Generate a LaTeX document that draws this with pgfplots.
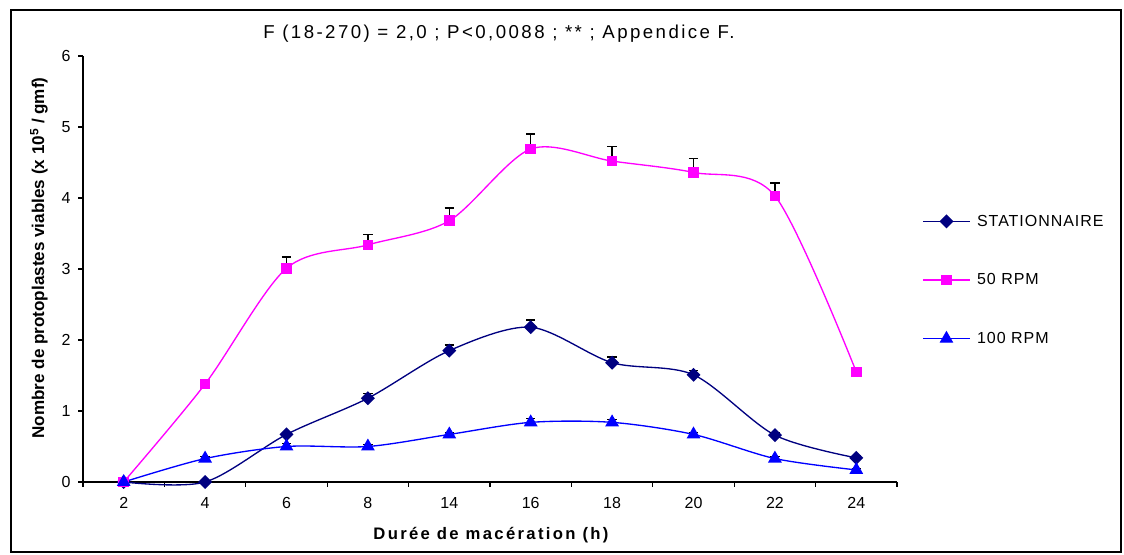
\documentclass[border=0pt]{standalone}
\usepackage{fontspec}
\setmainfont{Liberation Sans}
\usepackage{pgfplots}
\pgfplotsset{compat=1.18}
\definecolor{navy}{RGB}{0,0,128}
\definecolor{mag}{RGB}{255,0,255}
\definecolor{blu}{RGB}{0,0,255}
\begin{document}
\begin{tikzpicture}
\begin{axis}[name=ax, scale only axis, width=610.5pt, height=319.5pt,
  xmin=-0.5, xmax=9.5, ymin=0, ymax=6,
  axis lines*=left, axis line style={black, line width=0.8pt},
  xtick={-0.5,0.5,1.5,2.5,3.5,4.5,5.5,6.5,7.5,8.5,9.5},
  x tick label as interval,
  xticklabels={2,4,6,8,14,16,18,20,22,24},
  ytick={0,1,2,3,4,5,6},
  tick align=outside, major tick length=3.75pt,
  tick style={black, line width=0.8pt},
  tick label style={font=\fontsize{12}{12}\selectfont},
  xticklabel style={yshift=-4pt},
  yticklabel style={xshift=-2pt},
  /pgf/number format/assume math mode=true,
  clip=false,
  legend style={draw=none, fill=none, at={(1.026,0.474)}, anchor=west,
    font=\fontsize{12}{12}\selectfont\addfontfeatures{LetterSpace=6}, row sep=31pt, column sep=4pt,
    nodes={inner sep=1pt, text height=9pt, text depth=2pt}},
  legend cell align=left,
  legend image code/.code={\draw[mark repeat=2,mark phase=2,#1] plot coordinates {(0pt,0pt) (17.5pt,0pt) (35pt,0pt)};},
  every axis plot/.append style={line width=1pt},
  error bars/error bar style={black, line width=1pt},
  error bars/error mark options={rotate=90, black, mark size=3.5pt, line width=1pt},
]
\addplot[navy, smooth, mark=square*, mark size=3.2pt, mark options={fill=navy, solid, rotate=45},
  error bars/.cd, y dir=plus, y explicit]
  table[x=x, y=y, y error=e] {
x y e
0 0 0
1 0 0
2 0.67 0.03
3 1.18 0.07
4 1.85 0.08
5 2.18 0.10
6 1.68 0.08
7 1.51 0.06
8 0.66 0.04
9 0.34 0.03
};
\addlegendentry{STATIONNAIRE}
\addplot[mag, smooth, mark=square*, mark size=3.5pt, mark options={fill=mag, solid},
  error bars/.cd, y dir=plus, y explicit]
  table[x=x, y=y, y error=e] {
x y e
0 0 0
1 1.38 0.02
2 3.01 0.16
3 3.34 0.15
4 3.68 0.18
5 4.69 0.21
6 4.52 0.21
7 4.36 0.20
8 4.03 0.18
9 1.55 0.03
};
\addlegendentry{50 RPM}
\addplot[blu, smooth, mark=triangle*, mark size=5pt, mark options={fill=blu, solid},
  error bars/.cd, y dir=plus, y explicit]
  table[x=x, y=y, y error=e] {
x y e
0 0 0
1 0.33 0.03
2 0.50 0.04
3 0.50 0.03
4 0.67 0.03
5 0.84 0.05
6 0.84 0.04
7 0.67 0.03
8 0.33 0.03
9 0.17 0.02
};
\addlegendentry{100 RPM}
\end{axis}
\begin{scope}[shift={(ax.south west)}, xshift=-62.25pt, yshift=361.5pt, x=0.75pt, y=-0.75pt]
\draw[line width=2.2pt] (11,10) rectangle (1121,552);
\node[font=\fontsize{14}{14}\selectfont\addfontfeatures{LetterSpace=13}] at (499,34) {F (18-270) = 2,0 ; P<0,0088 ; ** ; Appendice F.};
\node[rotate=90, font=\bfseries\fontsize{12.8}{12.8}\selectfont] at (39,258) {Nombre de protoplastes viables (x 10\textsuperscript{5} / gmf)};
\node[font=\bfseries\fontsize{12.5}{12.5}\selectfont\addfontfeatures{LetterSpace=14}] at (491,535) {Durée de macération (h)};
\pgfresetboundingbox
\path (0,0) rectangle (1124,555);
\end{scope}
\end{tikzpicture}
\end{document}
